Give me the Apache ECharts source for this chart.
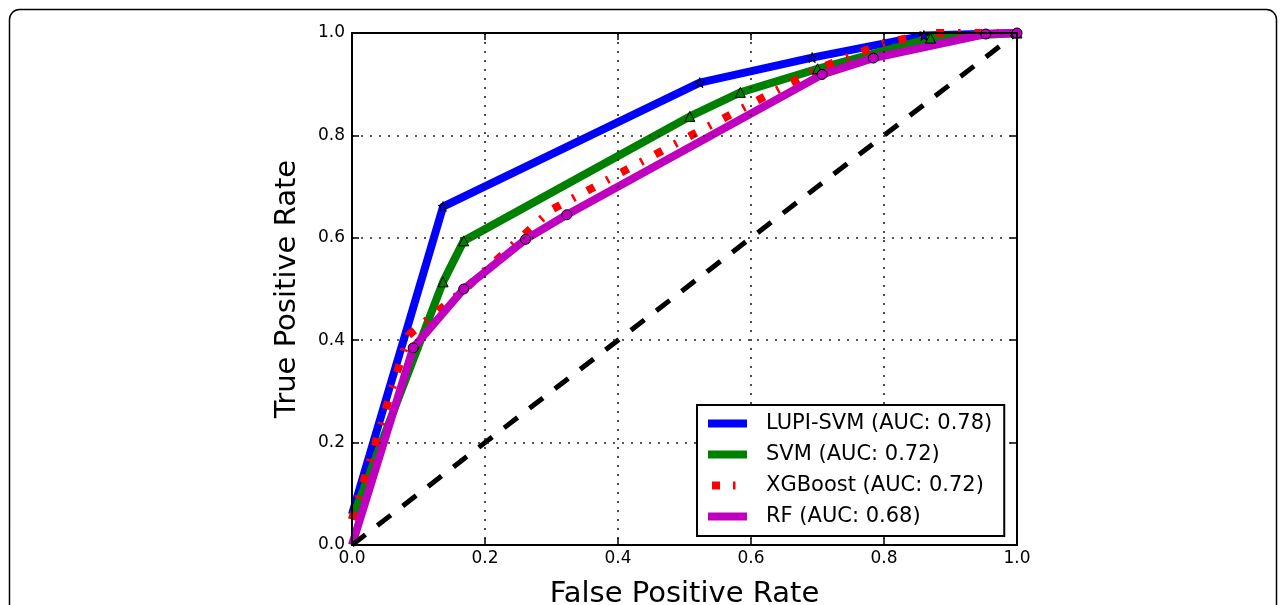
<!DOCTYPE html>
<html>
<head>
<meta charset="utf-8">
<script src="https://cdn.jsdelivr.net/npm/echarts@6/dist/echarts.min.js"></script>
<style>html,body{margin:0;padding:0;background:#fff}#chart{width:1287px;height:605px}</style>
</head>
<body>
<div id="chart"></div>
<script>
// ---- Data ----
const seriesNames = ['LUPI-SVM (AUC: 0.78)', 'SVM (AUC: 0.72)', 'XGBoost (AUC: 0.72)', 'RF (AUC: 0.68)'];

const lupiFpr = [0, 0.137, 0.523, 0.692, 0.86, 1];
const lupiTpr = [0.06, 0.661, 0.903, 0.952, 0.995, 1];

const svmFpr = [0, 0.137, 0.168, 0.508, 0.584, 0.70, 0.87, 1];
const svmTpr = [0.05, 0.514, 0.594, 0.837, 0.884, 0.93, 0.99, 1];

const xgbFpr = [0, 0.085, 0.17, 0.30, 0.51, 0.70, 0.80, 0.87, 1];
const xgbTpr = [0.05, 0.41, 0.50, 0.655, 0.80, 0.93, 0.98, 1.0, 1.0];

const rfFpr = [0, 0.092, 0.168, 0.261, 0.323, 0.707, 0.784, 0.953, 1];
const rfTpr = [0, 0.385, 0.50, 0.597, 0.645, 0.919, 0.951, 0.998, 1];

const chanceFpr = [0, 1];
const chanceTpr = [0, 1];

const tickValues = [0, 0.2, 0.4, 0.6, 0.8, 1.0];
const tickLabels = ['0.0', '0.2', '0.4', '0.6', '0.8', '1.0'];

const xTitle = 'False Positive Rate';
const yTitle = 'True Positive Rate';

// ---- Helpers ----
// points lying on the left spine: matplotlib clips their markers away under the thick lines
function pairs(xs, ys) {
  return xs.map((x, i) => x === 0 ? {value: [x, ys[i]], symbolSize: 0} : [x, ys[i]]);
}
function fmt(v) {
  const i = tickValues.findIndex(t => Math.abs(t - v) < 1e-9);
  return i >= 0 ? tickLabels[i] : '';
}
const FONT = 'DejaVu Sans';
const STAR = 'path://M50,2 L61.2,36.5 L97.6,36.5 L68.2,57.9 L79.4,92.5 L50,71.1 L20.6,92.5 L31.8,57.9 L2.4,36.5 L38.8,36.5 Z';
const BAR_ICON = 'path://M0,0H39V8H0Z';
const DASHDOT_ICON = 'path://M0,0H0.01V8H0Z M4,0H12V8H4Z M25,0H27.5V8H25Z M38.99,0H39V8H38.99Z';

const chart = echarts.init(document.getElementById('chart'), null, {renderer: 'canvas'});

function mainAxis(pos, name, gap) {
  const isX = pos === 'bottom' || pos === 'top';
  const main = pos === 'bottom' || pos === 'left';
  return {
    type: 'value', min: 0, max: 1, interval: 0.2, position: pos, z: 10,
    gridIndex: 0,
    axisLine: {show: true, onZero: false, lineStyle: {color: '#000', width: 2}},
    axisTick: {show: true, inside: true, length: 7, lineStyle: {color: '#000', width: 1.5}},
    axisLabel: main ? {
      show: true, formatter: fmt, color: '#000', fontSize: 17, fontFamily: FONT,
      margin: isX ? 5 : 7, showMinLabel: true, showMaxLabel: true, hideOverlap: false
    } : {show: false},
    splitLine: main ? {show: true, lineStyle: {color: '#222', width: 1.6, type: [2, 7]}} : {show: false},
    name: main ? name : '',
    nameLocation: 'middle',
    nameGap: gap,
    nameTextStyle: {fontSize: 29, fontFamily: FONT, color: '#000'}
  };
}

const option = {
  animation: false,
  backgroundColor: '#fff',
  grid: {left: 352, top: 33, width: 665, height: 512, outerBoundsMode: 'none', show: false},
  xAxis: [mainAxis('bottom', xTitle, 35), mainAxis('top', '', 0)],
  yAxis: [mainAxis('left', yTitle, 50), mainAxis('right', '', 0)],
  legend: {
    show: true, z: 20, orient: 'vertical', left: 697, top: 405,
    data: [
      {name: seriesNames[0], icon: BAR_ICON},
      {name: seriesNames[1], icon: BAR_ICON},
      {name: seriesNames[2], icon: DASHDOT_ICON},
      {name: seriesNames[3], icon: BAR_ICON}
    ],
    symbolKeepAspect: false,
    itemStyle: {borderWidth: 0},
    backgroundColor: '#fff', borderColor: '#000', borderWidth: 2, borderRadius: 0,
    padding: [8, 12, 9, 11], itemGap: 10, itemWidth: 39, itemHeight: 8,
    selectedMode: false,
    textStyle: {fontSize: 21, fontFamily: FONT, color: '#000', lineHeight: 21, padding: [0, 0, 0, 14]}
  },
  graphic: [{
    type: 'rect', z: 100, silent: true,
    shape: {x: 9.5, y: 9.5, width: 1267, height: 700, r: 10},
    style: {fill: 'none', stroke: '#000', lineWidth: 1.5}
  }],
  series: [
    {
      name: seriesNames[0], type: 'line', data: pairs(lupiFpr, lupiTpr),
      symbol: STAR, symbolSize: 10, showSymbol: true, z: 2,
      lineStyle: {color: '#0000ff', width: 8, join: 'round'},
      itemStyle: {color: '#0000ff', borderColor: '#000', borderWidth: 1},
      emphasis: {disabled: true}
    },
    {
      name: seriesNames[1], type: 'line', data: pairs(svmFpr, svmTpr),
      symbol: 'triangle', symbolSize: 10, showSymbol: true, z: 2,
      lineStyle: {color: '#008000', width: 8, join: 'round'},
      itemStyle: {color: '#008000', borderColor: '#000', borderWidth: 1},
      emphasis: {disabled: true}
    },
    {
      name: seriesNames[2], type: 'line', data: xgbFpr.map((x, i) => [x, xgbTpr[i]]),
      symbol: 'none', showSymbol: false, z: 2,
      lineStyle: {color: '#ff0000', width: 8, type: [8, 14, 2.5, 14], cap: 'butt'},
      itemStyle: {color: '#ff0000'},
      emphasis: {disabled: true}
    },
    {
      name: seriesNames[3], type: 'line', data: pairs(rfFpr, rfTpr),
      symbol: 'circle', symbolSize: 10, showSymbol: true, z: 2,
      lineStyle: {color: '#bf00bf', width: 8, join: 'round'},
      itemStyle: {color: '#bf00bf', borderColor: '#000', borderWidth: 1},
      emphasis: {disabled: true}
    },
    {
      name: 'chance', type: 'line', data: chanceFpr.map((x, i) => [x, chanceTpr[i]]),
      symbol: 'none', showSymbol: false, z: 2,
      lineStyle: {color: '#000', width: 5, type: [17, 15], cap: 'butt'},
      emphasis: {disabled: true}
    }
  ]
};
chart.setOption(option);
</script>
</body>
</html>
